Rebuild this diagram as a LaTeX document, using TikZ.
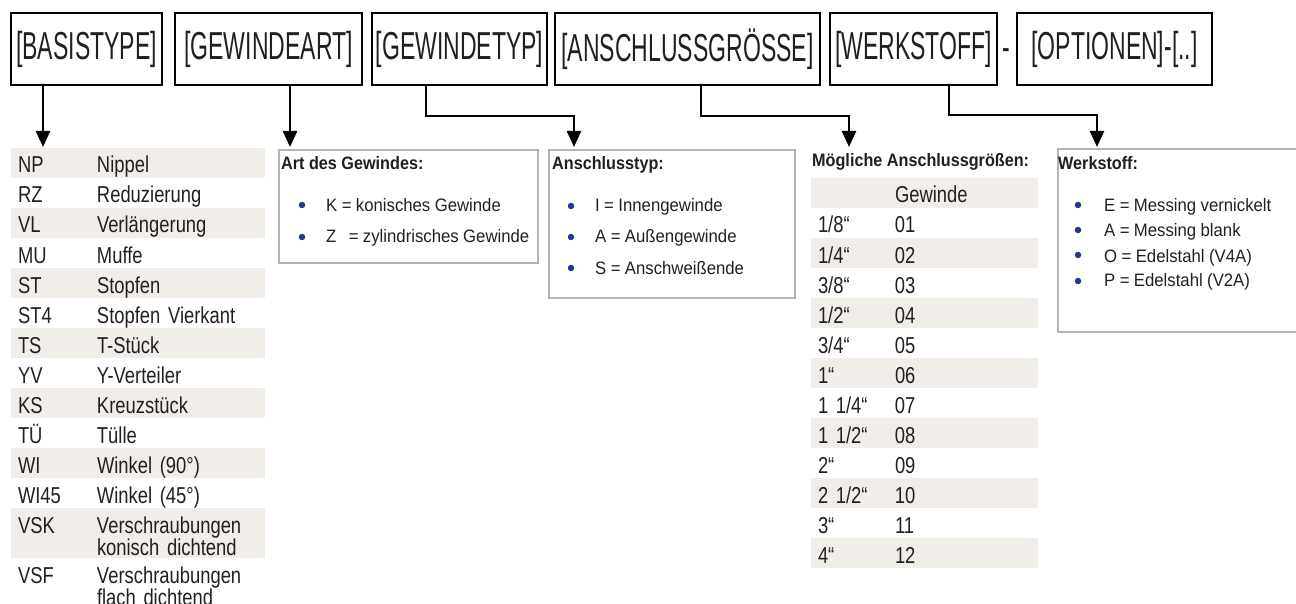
\documentclass[tikz,border=0pt]{standalone}
\usepackage{fontspec}
\setmainfont{Liberation Sans}
\newfontfamily\boxfont[FakeStretch=0.59]{Liberation Sans}
\newfontfamily\tabfont[FakeStretch=0.8]{Liberation Sans}
\newfontfamily\listfont[FakeStretch=0.93]{Liberation Sans}
\newfontfamily\capfont[FakeStretch=0.9]{Liberation Sans}
\newcommand\tabtext{\tabfont\fontsize{23}{19}\selectfont
  \fontdimen2\the\font=4.6pt\relax\fontdimen3\the\font=0pt\relax}
\newcommand\listtext{\listfont\fontsize{18}{18}\selectfont
  \fontdimen2\the\font=4.4pt\relax}
\usetikzlibrary{arrows.meta,positioning}
\definecolor{ink}{RGB}{35,31,32}
\definecolor{rowshade}{RGB}{241,238,234}
\definecolor{framegray}{RGB}{180,180,180}
\definecolor{dotblue}{RGB}{38,56,140}

\begin{document}
\begin{tikzpicture}[x=1pt,y=-1pt,text=ink]

    \tikzstyle{code box}=[draw=black,line width=2.4pt,minimum height=72pt,inner sep=0pt,
                          font=\boxfont\fontsize{39}{39}\selectfont]
    \tikzstyle{link}=[line width=2.4pt,-{Triangle[width=14pt,length=16pt]}]
    \tikzstyle{row}=[anchor=north west,inner xsep=7pt,inner ysep=0pt,outer sep=0pt,
                     text height=25pt,text depth=5pt,align=left,font=\tabtext]
    \tikzstyle{type row}=[row,text width=240pt]
    \tikzstyle{size row}=[row,text width=213pt]
    \tikzstyle{info box}=[draw=framegray,line width=2.2pt,anchor=north west,inner sep=0pt]
    \tikzstyle{info head}=[anchor=base west,inner sep=0pt,
                           font=\capfont\bfseries\fontsize{18}{18}\selectfont]
    \tikzstyle{item}=[anchor=base west,inner sep=0pt,font=\listtext]
    \tikzstyle{dot}=[circle,fill=dotblue,inner sep=0pt,minimum size=6.5pt]

    \useasboundingbox (0,0) rectangle (1296,604);
    \clip (0,0) rectangle (1296,604);

    % Bestellschluessel
    \node[code box,minimum width=151pt] (c_basis)   at (86.5,49)  {[BASISTYPE]};
    \node[code box,minimum width=187pt] (c_art)     at (268.5,49) {[GEWINDEART]};
    \node[code box,minimum width=175pt] (c_typ)     at (459.5,49) {[GEWINDETYP]};
    \node[code box,minimum width=265pt] (c_groesse) at (687.5,49) {[ANSCHLUSSGRÖSSE]};
    \node[code box,minimum width=167pt] (c_werk)    at (913.5,49) {[WERKSTOFF]};
    \node[code box,minimum width=195pt] (c_opt)     at (1114.5,49) {[OPTIONEN]-[..]};
    \node[anchor=base,inner sep=0pt,font=\boxfont\fontsize{39}{39}\selectfont]
         (c_sep) at (1006,61) {-};

    \coordinate (t_basis)   at (43,147);
    \coordinate (t_art)     at (290,147);
    \coordinate (t_typ)     at (574,147);
    \coordinate (t_groesse) at (849,147);
    \coordinate (t_werk)    at (1097,147);
    \coordinate (o_typ)     at (426,116);
    \coordinate (o_groesse) at (701,116);
    \coordinate (o_werk)    at (949,115);

    \draw[link] (c_basis.south -| t_basis) -- (t_basis);
    \draw[link] (c_art.south -| t_art) -- (t_art);
    \draw[link] (c_typ.south -| o_typ) -- (o_typ) -| (t_typ);
    \draw[link] (c_groesse.south -| o_groesse) -- (o_groesse) -| (t_groesse);
    \draw[link] (c_werk.south -| o_werk) -- (o_werk) -| (t_werk);

    % Basistypen
    \node[type row,fill=rowshade] (r_np) at (11,148) {\makebox[79pt][l]{NP}Nippel};
    \node[type row] (r_rz)   [below=0pt of r_np]   {\makebox[79pt][l]{RZ}Reduzierung};
    \node[type row,fill=rowshade] (r_vl) [below=0pt of r_rz] {\makebox[79pt][l]{VL}Verlängerung};
    \node[type row] (r_mu)   [below=0pt of r_vl]   {\makebox[79pt][l]{MU}Muffe};
    \node[type row,fill=rowshade] (r_st) [below=0pt of r_mu] {\makebox[79pt][l]{ST}Stopfen};
    \node[type row] (r_st4)  [below=0pt of r_st]   {\makebox[79pt][l]{ST4}Stopfen Vierkant};
    \node[type row,fill=rowshade] (r_ts) [below=0pt of r_st4] {\makebox[79pt][l]{TS}T-Stück};
    \node[type row] (r_yv)   [below=0pt of r_ts]   {\makebox[79pt][l]{YV}Y-Verteiler};
    \node[type row,fill=rowshade] (r_ks) [below=0pt of r_yv] {\makebox[79pt][l]{KS}Kreuzstück};
    \node[type row] (r_tue)  [below=0pt of r_ks]   {\makebox[79pt][l]{TÜ}Tülle};
    \node[type row,fill=rowshade] (r_wi) [below=0pt of r_tue] {\makebox[79pt][l]{WI}Winkel (90°)};
    \node[type row] (r_wi45) [below=0pt of r_wi]   {\makebox[79pt][l]{WI45}Winkel (45°)};
    \node[type row,fill=rowshade,text depth=25pt] (r_vsk) [below=0pt of r_wi45]
         {\makebox[79pt][l]{VSK}Verschraubungen\\\hspace*{79pt}konisch dichtend};
    \node[type row,text depth=25pt] (r_vsf) [below=0pt of r_vsk]
         {\makebox[79pt][l]{VSF}Verschraubungen\\\hspace*{79pt}flach dichtend};

    % Art des Gewindes
    \node[info box,minimum width=259pt,minimum height=113pt] (a_box) at (278,149) {};
    \node[info head] (a_head) at (281,170) {Art des Gewindes:};
    \node[dot] (d_a1) at (302,205) {};
    \node[dot] (d_a2) at (302,237) {};
    \node[item] (i_a1) at (326,212) {K = konisches Gewinde};
    \node[item] (i_a2) at (326,243) {Z\hspace{8pt} = zylindrisches Gewinde};

    % Anschlusstyp
    \node[info box,minimum width=246pt,minimum height=148pt] (t_box) at (548,149) {};
    \node[info head] (t_head) at (552,170) {Anschlusstyp:};
    \node[dot] (d_t1) at (571,206) {};
    \node[dot] (d_t2) at (571,237) {};
    \node[dot] (d_t3) at (571,268) {};
    \node[item] (i_t1) at (595,212) {I = Innengewinde};
    \node[item] (i_t2) at (595,243) {A = Außengewinde};
    \node[item] (i_t3) at (595,274) {S = Anschweißende};

    % Anschlussgroessen
    \node[info head] (g_head) at (812,167) {Mögliche Anschlussgrößen:};
    \node[size row,fill=rowshade] (g_top) at (811,178) {\makebox[77pt][l]{}Gewinde};
    \node[size row] (g_01) [below=0pt of g_top] {\makebox[77pt][l]{1/8“}01};
    \node[size row,fill=rowshade] (g_02) [below=0pt of g_01] {\makebox[77pt][l]{1/4“}02};
    \node[size row] (g_03) [below=0pt of g_02] {\makebox[77pt][l]{3/8“}03};
    \node[size row,fill=rowshade] (g_04) [below=0pt of g_03] {\makebox[77pt][l]{1/2“}04};
    \node[size row] (g_05) [below=0pt of g_04] {\makebox[77pt][l]{3/4“}05};
    \node[size row,fill=rowshade] (g_06) [below=0pt of g_05] {\makebox[77pt][l]{1“}06};
    \node[size row] (g_07) [below=0pt of g_06] {\makebox[77pt][l]{1 1/4“}07};
    \node[size row,fill=rowshade] (g_08) [below=0pt of g_07] {\makebox[77pt][l]{1 1/2“}08};
    \node[size row] (g_09) [below=0pt of g_08] {\makebox[77pt][l]{2“}09};
    \node[size row,fill=rowshade] (g_10) [below=0pt of g_09] {\makebox[77pt][l]{2 1/2“}10};
    \node[size row] (g_11) [below=0pt of g_10] {\makebox[77pt][l]{3“}11};
    \node[size row,fill=rowshade] (g_12) [below=0pt of g_11] {\makebox[77pt][l]{4“}12};

    % Werkstoff
    \node[info box,minimum width=260pt,minimum height=183pt] (w_box) at (1057,148) {};
    \node[info head] (w_head) at (1058,170) {Werkstoff:};
    \node[dot] (d_w1) at (1078,205) {};
    \node[dot] (d_w2) at (1078,230) {};
    \node[dot] (d_w3) at (1078,255) {};
    \node[dot] (d_w4) at (1078,281) {};
    \node[item] (i_w1) at (1104,211.5) {E = Messing vernickelt};
    \node[item] (i_w2) at (1104,236.5) {A = Messing blank};
    \node[item] (i_w3) at (1104,262) {O = Edelstahl (V4A)};
    \node[item] (i_w4) at (1104,287) {P = Edelstahl (V2A)};

\end{tikzpicture}
\end{document}
